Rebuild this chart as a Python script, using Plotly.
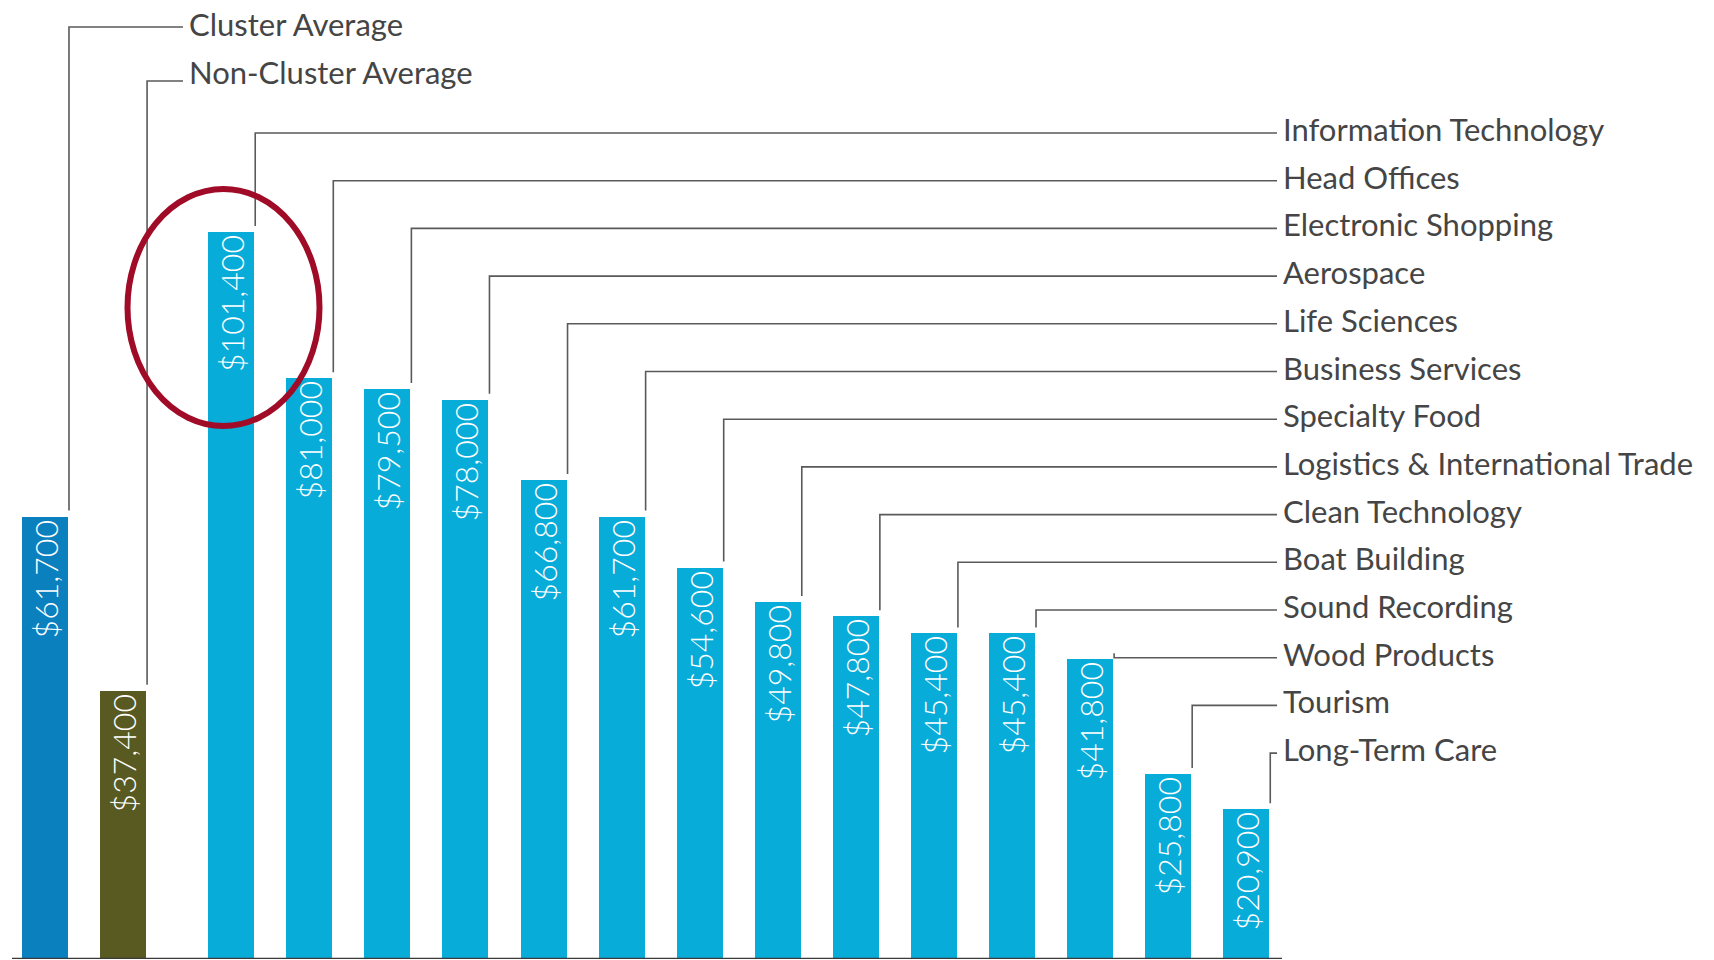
import plotly.graph_objects as go

# ---- data ----
averages = ["Cluster Average", "Non-Cluster Average"]
average_values = [61700, 37400]
industries = [
    "Information Technology", "Head Offices", "Electronic Shopping", "Aerospace",
    "Life Sciences", "Business Services", "Specialty Food",
    "Logistics & International Trade", "Clean Technology", "Boat Building",
    "Sound Recording", "Wood Products", "Tourism", "Long-Term Care",
]
industry_values = [101400, 81000, 79500, 78000, 66800, 61700, 54600,
                   49800, 47800, 45400, 45400, 41800, 25800, 20900]

# ---- layout constants (pixels) ----
W, H = 1714, 960
PLOT_H = 959
PX_PER_VAL = 0.00717          # pixels per dollar
UNIT = 78.08                  # pixels per bar slot
X0 = 45                       # pixel centre of first bar
BAR_W = 0.589
GROUP_GAP = 0.385

C_CLUSTER = "#0a80bf"
C_NON = "#585a22"
C_IND = "#08acd9"
LINE_C = "#5a5a5a"
TEXT_C = "#454545"
FONT = "Lato"


def px_to_x(px):
    return (px - X0) / UNIT


def px_to_y(py):
    return (PLOT_H - py) / PX_PER_VAL


names = averages + industries
values = average_values + industry_values
xpos = [0, 1] + [2 + GROUP_GAP + i for i in range(len(industries))]
colors = [C_CLUSTER, C_NON] + [C_IND] * len(industries)

fig = go.Figure()
fig.add_trace(go.Bar(
    x=xpos, y=values, width=BAR_W,
    marker=dict(color=colors, line=dict(width=0)),
    text=[f"${v:,}" for v in values],
    textposition="inside", insidetextanchor="end", textangle=-90,
    textfont=dict(color="white", size=32, family=FONT, weight=300),
    constraintext="none",
    hovertext=names, hoverinfo="text+y",
))

shapes = []
annotations = []

# leader lines
label_px = [27, 81] + [133 + 47.7 * i for i in range(len(industries))]
end_px = [183, 183] + [1277] * len(industries)
yshifts = [3, 9] + [4] * len(industries)
gap_val = 6 / PX_PER_VAL
for name, x, v, lp, ep, ys in zip(names, xpos, values, label_px, end_px, yshifts):
    lx = x + BAR_W / 2 + 1 / UNIT
    ly = px_to_y(lp)
    y_start = v + gap_val
    shapes.append(dict(
        type="path", xref="x", yref="y",
        path=f"M {lx},{y_start} L {lx},{ly} L {px_to_x(ep)},{ly}",
        line=dict(color=LINE_C, width=1.6),
    ))
    annotations.append(dict(
        x=px_to_x(ep), y=ly, xref="x", yref="y",
        text=name, showarrow=False, xanchor="left", yanchor="middle",
        xshift=4, yshift=ys,
        font=dict(family=FONT, size=31, color=TEXT_C),
    ))

# baseline
shapes.append(dict(type="line", xref="x", yref="y",
                   x0=px_to_x(12), x1=px_to_x(1282), y0=0, y1=0,
                   line=dict(color="#3a3a3a", width=2.5)))

# red ellipse highlighting the top industry
shapes.append(dict(type="circle", xref="x", yref="y",
                   x0=px_to_x(127.5), x1=px_to_x(319.5),
                   y0=px_to_y(426), y1=px_to_y(189),
                   line=dict(color="#a00c28", width=6)))

fig.update_layout(
    width=W, height=H,
    margin=dict(l=0, r=0, t=0, b=H - PLOT_H),
    paper_bgcolor="white", plot_bgcolor="white",
    showlegend=False,
    xaxis=dict(range=[px_to_x(0), px_to_x(W)], visible=False, fixedrange=True),
    yaxis=dict(range=[0, px_to_y(0)], visible=False, fixedrange=True),
    shapes=shapes, annotations=annotations,
    bargap=0,
)

fig.write_html("out.html", config={"displayModeBar": False})
